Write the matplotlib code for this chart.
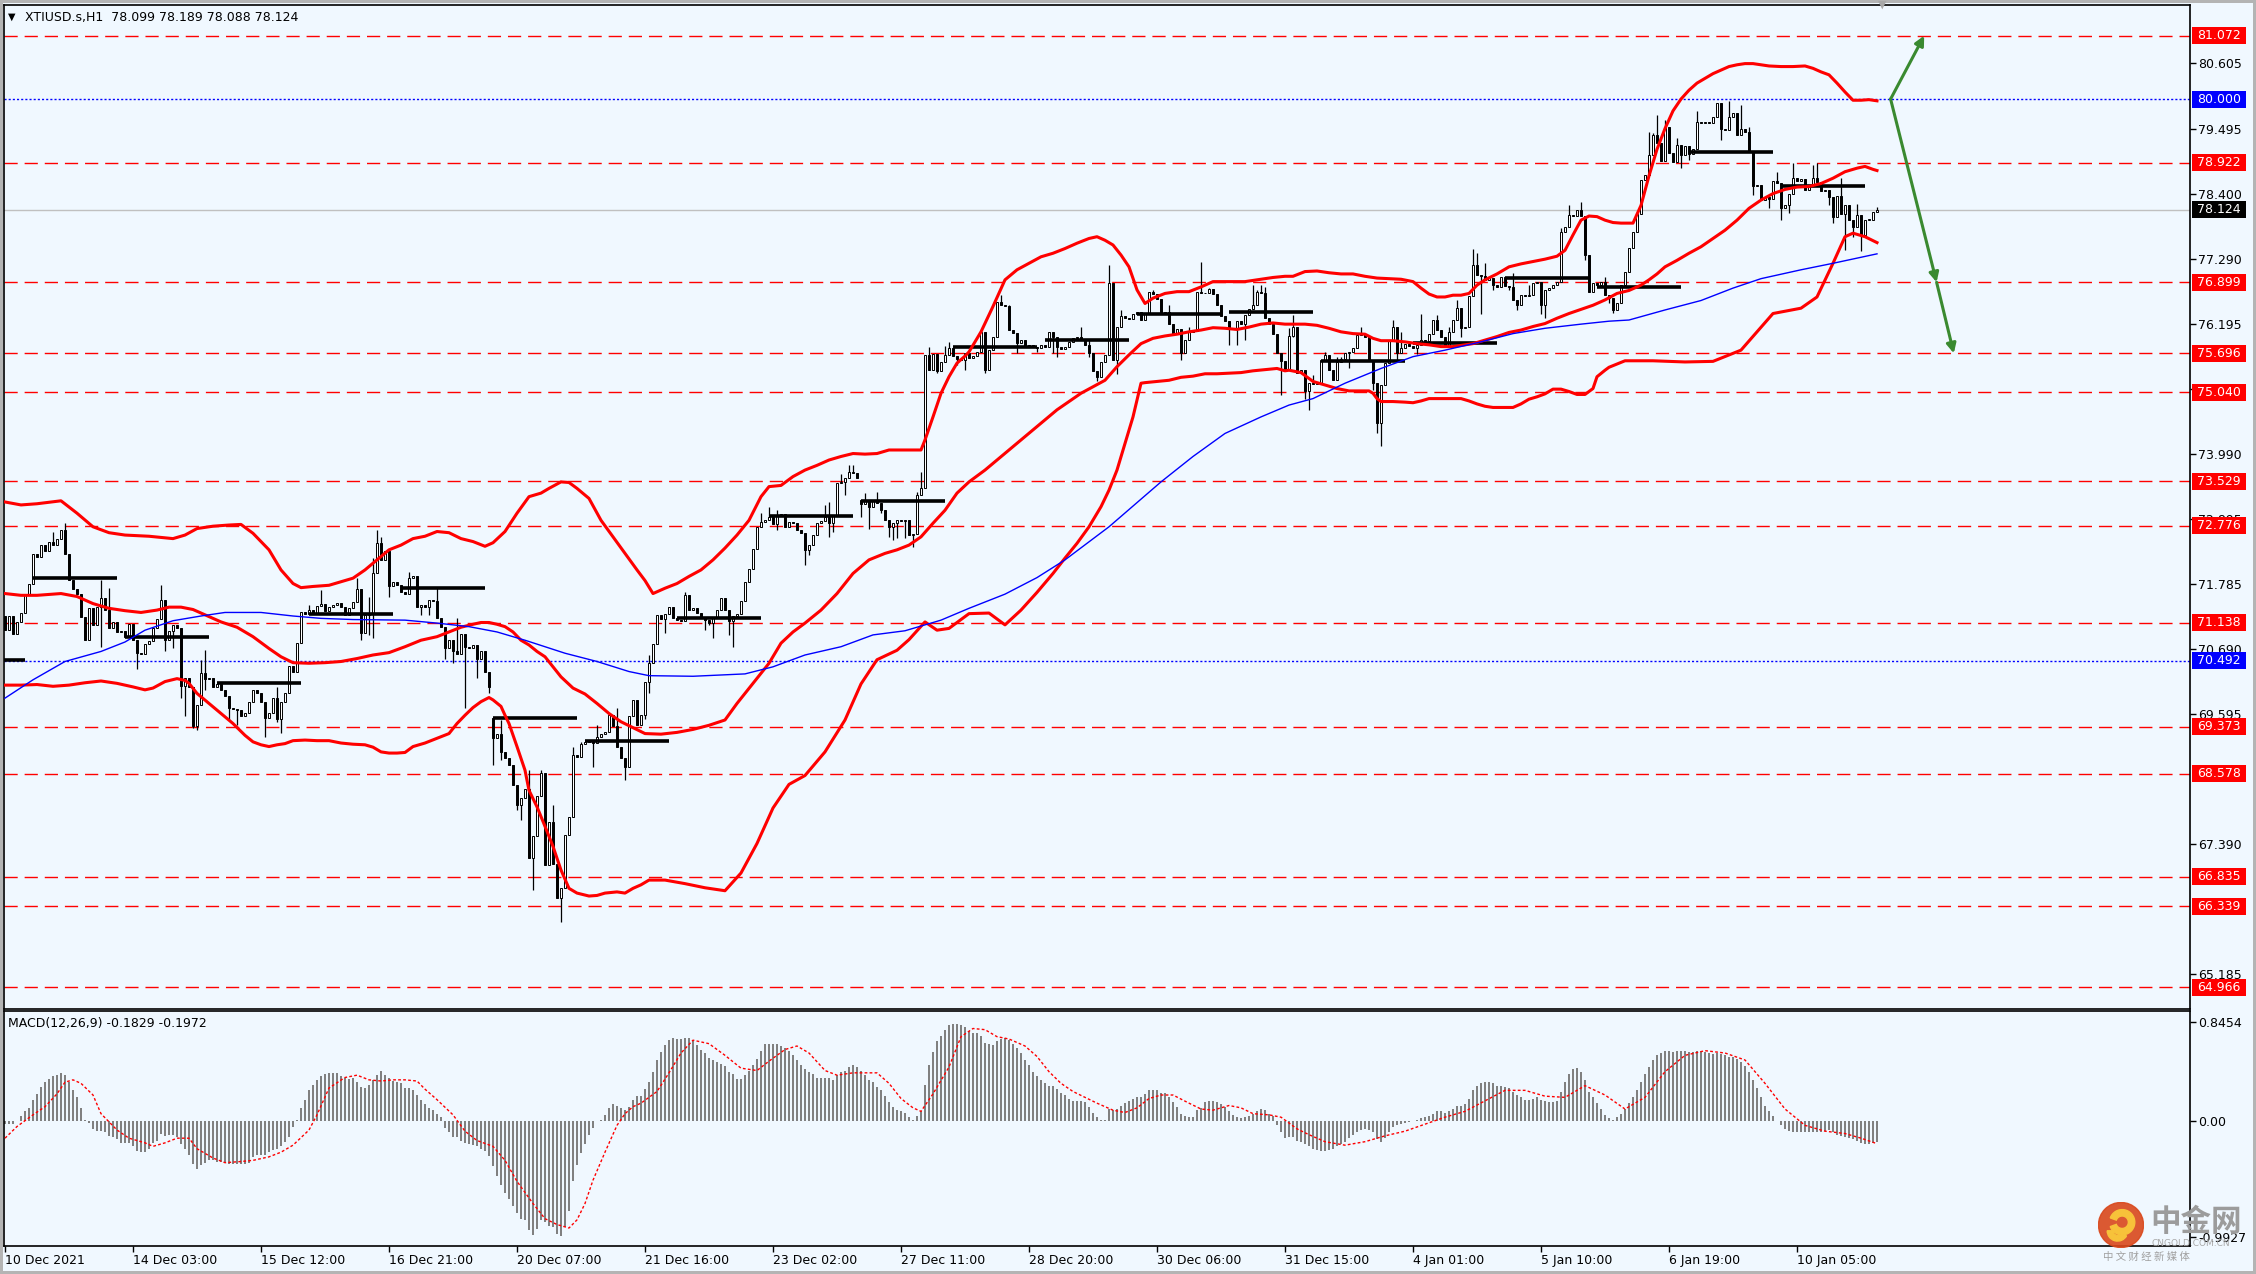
import matplotlib
matplotlib.use("Agg")
import matplotlib.pyplot as plt
import numpy as np
from matplotlib.patches import Rectangle, Circle, Wedge
from matplotlib.transforms import blended_transform_factory

# ---------------- data (XTIUSD H1) ----------------
closes = [
    71.02, 71.25, 70.95, 71.15, 71.30, 71.60, 71.80, 72.30, 72.25, 72.45,
    72.35, 72.50, 72.45, 72.55, 72.70, 72.30, 71.86, 71.70, 71.63, 71.24,
    70.85, 71.38, 71.10, 71.40, 71.55, 71.35, 71.04, 71.15, 70.98, 71.00,
    70.90, 71.12, 70.85, 70.62, 70.60, 70.78, 70.82, 71.05, 71.20, 71.52,
    70.85, 71.00, 71.10, 71.05, 70.06, 70.20, 70.05, 69.38, 69.74, 70.28,
    70.18, 70.20, 70.05, 70.10, 70.00, 69.90, 69.70, 69.68, 69.66, 69.56,
    69.60, 69.80, 70.00, 69.95, 69.80, 69.52, 69.60, 69.87, 69.50, 69.80,
    69.95, 70.40, 70.30, 70.80, 71.32, 71.28, 71.35, 71.30, 71.42, 71.45,
    71.33, 71.40, 71.44, 71.47, 71.40, 71.26, 71.38, 71.48, 71.70, 70.96,
    71.27, 71.30, 71.97, 72.48, 72.20, 72.35, 71.75, 71.82, 71.78, 71.65,
    71.62, 71.90, 71.93, 71.40, 71.43, 71.41, 71.52, 71.50, 71.21, 71.07,
    70.70, 70.85, 70.66, 70.60, 70.95, 70.72, 70.70, 70.76, 70.53, 70.66,
    70.31, 70.05, 69.18, 69.26, 68.95, 68.85, 68.72, 68.39, 68.05, 68.17,
    68.33, 67.15, 67.52, 68.20, 68.60, 67.04, 67.77, 67.05, 66.47, 66.65,
    67.55, 67.85, 68.90, 68.87, 69.08, 69.12, 69.15, 69.10, 69.20, 69.25,
    69.28, 69.57, 69.38, 69.04, 68.84, 68.70, 69.55, 69.83, 69.40, 69.57,
    70.14, 70.45, 70.78, 71.27, 71.20, 71.28, 71.40, 71.21, 71.18, 71.16,
    71.60, 71.35, 71.38, 71.30, 71.21, 71.18, 71.14, 71.24, 71.35, 71.55,
    71.35, 71.17, 71.25, 71.28, 71.50, 71.83, 72.05, 72.39, 72.76, 72.84,
    72.87, 72.93, 72.80, 72.96, 72.98, 72.75, 72.84, 72.82, 72.71, 72.65,
    72.37, 72.45, 72.62, 72.82, 72.86, 72.93, 72.82, 72.96, 73.50, 73.52,
    73.58, 73.69, 73.67, 73.58, 73.15, 73.20, 73.10, 73.21, 73.17, 73.04,
    72.87, 72.76, 72.82, 72.87, 72.85, 72.88, 72.62, 72.64, 73.30, 73.41,
    75.67, 75.42, 75.68, 75.40, 75.55, 75.67, 75.78, 75.65, 75.60, 75.58,
    75.70, 75.62, 75.65, 75.72, 76.05, 75.41, 75.75, 75.98, 76.57, 76.52,
    76.49, 76.09, 76.04, 75.87, 75.92, 75.80, 75.84, 75.80, 75.78, 75.84,
    75.80, 76.05, 75.97, 75.80, 75.77, 75.80, 75.89, 75.95, 75.97, 75.93,
    75.84, 75.70, 75.39, 75.30, 75.55, 75.67, 76.88, 75.58, 76.15, 76.32,
    76.30, 76.28, 76.37, 76.40, 76.26, 76.37, 76.73, 76.70, 76.62, 76.37,
    76.40, 76.20, 76.03, 76.10, 75.70, 75.92, 76.06, 76.08, 76.74, 76.71,
    76.72, 76.78, 76.70, 76.51, 76.32, 76.24, 76.12, 76.10, 76.25, 76.20,
    76.35, 76.45, 76.52, 76.74, 76.72, 76.29, 76.20, 76.03, 75.70, 75.56,
    75.41, 75.99, 76.14, 75.36, 75.42, 75.05, 75.19, 75.17, 75.19, 75.58,
    75.67, 75.41, 75.24, 75.55, 75.60, 75.70, 75.72, 75.78, 76.00, 76.03,
    75.97, 75.58, 75.19, 74.51, 75.16, 75.53, 75.92, 76.15, 75.70, 75.78,
    75.86, 75.82, 75.78, 75.84, 75.92, 75.90, 76.03, 76.26, 76.09, 75.98,
    75.80, 76.05, 76.26, 76.46, 76.12, 76.15, 76.66, 77.19, 77.02, 77.00,
    76.93, 76.97, 76.85, 76.82, 76.99, 76.83, 76.82, 76.60, 76.51, 76.68,
    76.66, 76.68, 76.88, 76.90, 76.52, 76.76, 76.80, 76.85, 76.91, 77.75,
    77.84, 78.03, 78.02, 78.12, 78.02, 77.36, 76.74, 76.89, 76.86, 76.90,
    76.68, 76.63, 76.43, 76.55, 76.85, 77.08, 77.48, 77.75, 78.05, 78.63,
    78.71, 79.05, 79.39, 79.25, 78.95, 79.53, 79.08, 78.93, 79.22, 79.06,
    79.20, 79.07, 79.16, 79.62, 79.60, 79.62, 79.60, 79.70, 79.93, 79.50,
    79.48, 79.70, 79.76, 79.39, 79.50, 79.45, 79.11, 78.52, 78.55, 78.29,
    78.35, 78.30, 78.62, 78.58, 78.15, 78.20, 78.40, 78.66, 78.62, 78.65,
    78.46, 78.52, 78.66, 78.60, 78.45, 78.46, 78.35, 78.01, 78.36, 78.05,
    78.20, 77.95, 77.84, 78.04, 77.70, 77.95, 77.96, 78.09, 78.124,
]
# opens that differ from the previous close (session gaps)
gap_opens = {0: 71.25, 122: 69.52, 214: 73.21}
# visible wick ends
wick_highs = {
    12: 72.68, 15: 72.82, 24: 71.86, 26: 71.72, 39: 71.77, 49: 70.50, 50: 70.67,
    68: 70.05, 76: 71.43, 79: 71.69, 88: 71.89, 91: 71.58, 92: 72.23, 93: 72.71,
    94: 72.59, 101: 72.00, 108: 71.72, 113: 71.21, 124: 69.49, 131: 68.64,
    134: 68.64, 135: 68.56, 137: 68.05, 140: 67.46, 142: 69.04, 144: 69.12,
    148: 69.40, 153: 69.69, 158: 69.83, 161: 70.59, 166: 71.41, 170: 71.66,
    179: 71.55, 189: 72.99, 191: 73.10, 193: 73.04, 205: 73.13, 206: 73.18,
    209: 73.66, 211: 73.80, 212: 73.80, 215: 73.33, 218: 73.35, 228: 73.35,
    229: 73.69, 231: 75.81, 235: 75.82, 236: 75.89, 249: 76.68, 251: 76.51,
    269: 76.15, 271: 75.92, 276: 77.19, 279: 76.43, 283: 76.40, 286: 76.74,
    287: 76.77, 291: 76.51, 296: 76.15, 299: 77.24, 301: 76.80, 302: 76.77,
    312: 76.85, 313: 76.77, 314: 76.85, 315: 76.82, 321: 76.12, 322: 76.34,
    327: 75.33, 330: 75.72, 333: 75.64, 334: 75.64, 336: 75.72, 337: 75.78,
    339: 76.15, 347: 76.26, 349: 76.06, 354: 76.37, 358: 76.34, 361: 76.15,
    363: 76.60, 367: 77.47, 368: 77.39, 370: 77.22, 377: 77.05, 381: 76.85,
    384: 76.91, 389: 77.81, 391: 78.21, 394: 78.26, 400: 76.99, 406: 77.16,
    411: 79.45, 412: 79.42, 413: 79.73, 415: 79.65, 418: 79.34, 423: 79.79,
    428: 79.93, 431: 79.96, 434: 79.90, 436: 79.53, 443: 78.77, 447: 78.91,
    452: 78.88, 453: 78.91, 459: 78.66, 463: 78.23, 468: 78.18,
}
wick_lows = {
    24: 70.73, 33: 70.36, 40: 70.65, 42: 70.70, 44: 69.86, 45: 69.55, 47: 69.36,
    48: 69.32, 50: 70.00, 56: 69.49, 58: 69.40, 65: 69.21, 68: 69.45, 69: 69.27,
    89: 70.84, 91: 70.93, 92: 70.87, 96: 71.58, 104: 71.27, 106: 71.27,
    110: 70.53, 112: 70.45, 115: 69.69, 118: 70.20, 121: 69.94, 122: 68.73,
    124: 68.81, 128: 67.97, 129: 67.80, 132: 66.61, 139: 66.07, 147: 68.70,
    155: 68.47, 160: 69.50, 161: 69.94, 165: 70.96, 175: 71.01, 176: 71.10,
    177: 70.87, 181: 70.93, 182: 70.73, 193: 72.71, 200: 72.11, 201: 72.28,
    206: 72.59, 207: 72.68, 210: 73.30, 214: 72.93, 216: 72.73, 219: 72.99,
    221: 72.59, 222: 72.54, 223: 72.57, 225: 72.57, 227: 72.42, 233: 75.36,
    238: 75.50, 240: 75.41, 245: 75.36, 253: 75.70, 258: 75.72, 262: 75.70,
    263: 75.64, 271: 75.64, 273: 75.22, 278: 75.35, 294: 75.58, 306: 75.84,
    308: 75.84, 310: 75.92, 319: 74.99, 322: 75.98, 325: 74.93, 326: 74.74,
    336: 75.44, 342: 75.07, 343: 74.34, 344: 74.12, 348: 75.58, 353: 75.69,
    364: 75.98, 369: 76.37, 372: 76.77, 376: 76.77, 378: 76.43, 384: 76.37,
    385: 76.29, 395: 77.28, 397: 76.77, 401: 76.54, 402: 76.38, 419: 78.83,
    421: 78.97, 429: 79.31, 437: 78.38, 440: 78.32, 441: 78.15, 444: 77.95,
    446: 78.07, 456: 78.21, 457: 77.90, 460: 77.44, 462: 77.67, 464: 77.42,
}

# Bollinger bands and moving average, (bar, price) points
bb_upper = [
    (0, 73.18), (4, 73.13), (8, 73.15), (14, 73.20), (18, 72.99), (22, 72.76), (26, 72.66),
    (30, 72.62), (36, 72.60), (42, 72.56), (45, 72.62), (48, 72.73), (52, 72.77), (56, 72.79),
    (59, 72.80), (62, 72.65), (66, 72.37), (69, 72.03), (72, 71.80), (74, 71.73), (77, 71.75),
    (81, 71.77), (84, 71.83), (87, 71.89), (90, 72.03), (93, 72.20), (96, 72.37), (99, 72.45),
    (102, 72.56), (105, 72.60), (108, 72.68), (111, 72.66), (114, 72.56), (117, 72.51),
    (120, 72.43), (122, 72.49), (125, 72.68), (128, 72.99), (131, 73.27), (134, 73.33),
    (136, 73.41), (139, 73.52), (141, 73.51), (143, 73.41), (146, 73.24), (149, 72.87),
    (152, 72.59), (155, 72.31), (158, 72.03), (160, 71.85), (162, 71.63), (165, 71.72),
    (168, 71.80), (171, 71.92), (174, 72.03), (177, 72.20), (180, 72.40), (183, 72.62),
    (186, 72.87), (189, 73.27), (191, 73.44), (194, 73.46), (197, 73.61), (200, 73.72),
    (203, 73.80), (206, 73.89), (209, 73.95), (212, 74.00), (215, 73.99), (218, 74.00),
    (221, 74.06), (229, 74.06), (230, 74.23), (232, 74.62), (234, 75.02), (236, 75.30),
    (238, 75.53), (240, 75.65), (241, 75.72), (244, 76.06), (247, 76.49), (250, 76.94),
    (253, 77.11), (256, 77.22), (259, 77.33), (262, 77.39), (265, 77.47), (268, 77.56),
    (271, 77.64), (273, 77.67), (275, 77.61), (277, 77.53), (279, 77.36), (281, 77.16),
    (283, 76.77), (285, 76.54), (287, 76.63), (290, 76.71), (293, 76.74), (296, 76.74),
    (299, 76.82), (302, 76.91), (305, 76.91), (310, 76.91), (314, 76.95), (317, 76.98),
    (320, 77.00), (322, 77.00), (325, 77.08), (328, 77.09), (331, 77.06), (334, 77.04),
    (337, 77.04), (340, 77.00), (343, 76.97), (346, 76.96), (349, 76.95), (352, 76.91),
    (354, 76.80), (356, 76.70), (358, 76.65), (360, 76.65), (362, 76.68), (364, 76.68),
    (366, 76.71), (368, 76.85), (370, 76.94), (373, 77.04), (376, 77.16), (379, 77.21),
    (382, 77.25), (385, 77.29), (388, 77.34), (390, 77.44), (392, 77.70), (394, 77.95),
    (396, 78.02), (398, 78.01), (400, 77.95), (402, 77.91), (404, 77.90), (407, 77.90),
    (409, 78.20), (411, 78.70), (413, 79.15), (415, 79.50), (417, 79.80), (419, 80.00),
    (421, 80.15), (423, 80.27), (425, 80.35), (427, 80.43), (429, 80.49), (431, 80.55),
    (433, 80.58), (435, 80.60), (437, 80.60), (439, 80.58), (441, 80.56), (444, 80.55),
    (447, 80.55), (450, 80.56), (452, 80.52), (454, 80.46), (456, 80.41), (458, 80.27),
    (460, 80.12), (462, 79.98), (464, 79.98), (466, 79.99), (468, 79.97),
]
bb_middle = [
    (0, 71.63), (4, 71.60), (8, 71.60), (14, 71.63), (18, 71.58), (22, 71.46), (26, 71.38),
    (30, 71.34), (34, 71.31), (38, 71.35), (41, 71.40), (44, 71.40), (47, 71.36), (50, 71.27),
    (54, 71.15), (58, 71.06), (62, 70.90), (66, 70.70), (69, 70.56), (72, 70.46), (76, 70.45),
    (80, 70.46), (84, 70.48), (88, 70.53), (92, 70.59), (96, 70.63), (100, 70.73), (104, 70.84),
    (108, 70.90), (111, 70.98), (114, 71.06), (117, 71.11), (119, 71.14), (121, 71.14),
    (123, 71.11), (125, 71.07), (127, 70.98), (129, 70.84), (131, 70.76), (133, 70.65),
    (135, 70.56), (137, 70.39), (139, 70.22), (142, 70.03), (145, 69.93), (148, 69.77),
    (151, 69.60), (154, 69.46), (157, 69.36), (160, 69.26), (164, 69.25), (168, 69.28),
    (172, 69.33), (176, 69.40), (180, 69.49), (183, 69.77), (187, 70.11), (191, 70.45),
    (194, 70.79), (197, 70.98), (200, 71.13), (204, 71.35), (208, 71.63), (212, 71.97),
    (216, 72.20), (220, 72.31), (223, 72.37), (226, 72.45), (229, 72.59), (232, 72.82),
    (235, 73.04), (238, 73.33), (241, 73.52), (245, 73.72), (248, 73.89), (251, 74.06),
    (254, 74.23), (257, 74.40), (260, 74.57), (263, 74.74), (266, 74.88), (269, 75.02),
    (272, 75.13), (275, 75.24), (278, 75.47), (281, 75.67), (284, 75.86), (287, 75.95),
    (290, 75.99), (293, 76.02), (296, 76.06), (299, 76.09), (302, 76.13), (305, 76.12),
    (308, 76.10), (311, 76.14), (314, 76.19), (317, 76.21), (320, 76.19), (325, 76.19),
    (328, 76.17), (331, 76.12), (334, 76.06), (337, 76.03), (340, 76.02), (342, 75.95),
    (344, 75.91), (347, 75.91), (350, 75.89), (353, 75.86), (356, 75.84), (359, 75.81),
    (362, 75.81), (365, 75.84), (367, 75.86), (370, 75.92), (373, 75.98), (376, 76.05),
    (379, 76.09), (382, 76.15), (385, 76.20), (388, 76.29), (391, 76.37), (394, 76.44),
    (397, 76.51), (400, 76.60), (403, 76.71), (406, 76.76), (409, 76.85), (411, 76.94),
    (413, 77.04), (415, 77.16), (418, 77.27), (421, 77.39), (424, 77.50), (427, 77.64),
    (430, 77.78), (433, 77.95), (436, 78.15), (439, 78.29), (442, 78.40), (445, 78.47),
    (448, 78.51), (451, 78.52), (454, 78.57), (457, 78.66), (460, 78.77), (463, 78.83),
    (465, 78.86), (467, 78.81), (468, 78.79),
]
bb_lower = [
    (0, 70.08), (4, 70.08), (8, 70.09), (12, 70.06), (16, 70.08), (20, 70.12), (24, 70.15),
    (28, 70.11), (32, 70.05), (35, 70.00), (37, 70.03), (40, 70.14), (43, 70.19), (45, 70.16),
    (46, 70.11), (48, 69.94), (51, 69.77), (54, 69.60), (57, 69.43), (60, 69.23), (62, 69.12),
    (64, 69.07), (66, 69.04), (68, 69.07), (70, 69.09), (72, 69.14), (75, 69.15), (78, 69.14),
    (81, 69.14), (84, 69.10), (87, 69.08), (90, 69.07), (92, 69.03), (94, 68.95), (96, 68.93),
    (98, 68.93), (100, 68.94), (102, 69.04), (105, 69.10), (108, 69.18), (111, 69.26),
    (113, 69.43), (115, 69.57), (117, 69.70), (119, 69.80), (121, 69.87), (122, 69.83),
    (124, 69.72), (125, 69.57), (126, 69.43), (128, 69.04), (130, 68.64), (131, 68.30),
    (133, 68.02), (135, 67.69), (137, 67.35), (139, 66.95), (141, 66.64), (143, 66.56),
    (146, 66.51), (148, 66.52), (150, 66.56), (153, 66.58), (155, 66.56), (157, 66.64),
    (159, 66.70), (161, 66.78), (165, 66.78), (170, 66.72), (175, 66.65), (180, 66.60),
    (184, 66.90), (188, 67.40), (192, 68.00), (196, 68.40), (200, 68.55), (205, 68.95),
    (210, 69.49), (214, 70.10), (218, 70.51), (223, 70.67), (226, 70.85), (230, 71.15),
    (233, 71.01), (236, 71.04), (241, 71.29), (246, 71.30), (250, 71.10), (254, 71.35),
    (258, 71.65), (262, 71.97), (265, 72.23), (268, 72.48), (271, 72.76), (274, 73.10),
    (276, 73.38), (278, 73.72), (280, 74.17), (282, 74.62), (284, 75.19), (285, 75.20),
    (288, 75.22), (291, 75.24), (294, 75.29), (297, 75.31), (300, 75.35), (303, 75.35),
    (306, 75.36), (309, 75.37), (312, 75.40), (315, 75.42), (318, 75.44), (320, 75.40),
    (321, 75.41), (324, 75.37), (327, 75.22), (330, 75.16), (333, 75.10), (336, 75.06),
    (341, 75.06), (342, 75.02), (343, 74.93), (344, 74.88), (347, 74.88), (350, 74.87),
    (352, 74.86), (354, 74.89), (356, 74.93), (364, 74.93), (366, 74.89), (368, 74.84),
    (370, 74.80), (372, 74.78), (377, 74.78), (379, 74.84), (381, 74.92), (383, 74.96),
    (385, 75.01), (387, 75.09), (389, 75.09), (391, 75.05), (393, 75.00), (395, 75.00),
    (397, 75.10), (398, 75.30), (400, 75.41), (401, 75.46), (405, 75.57), (412, 75.57),
    (420, 75.55), (427, 75.56), (434, 75.75), (442, 76.37), (449, 76.46), (453, 76.65),
    (457, 77.22), (460, 77.67), (462, 77.73), (465, 77.67), (468, 77.57),
]
ma_blue = [
    (0, 69.86), (7, 70.17), (15, 70.48), (24, 70.65), (30, 70.81), (35, 71.01), (42, 71.17),
    (49, 71.25), (55, 71.31), (64, 71.31), (72, 71.25), (79, 71.21), (87, 71.19), (100, 71.18),
    (108, 71.13), (116, 71.07), (123, 70.98), (130, 70.84), (140, 70.62), (148, 70.48),
    (156, 70.31), (161, 70.24), (172, 70.23), (185, 70.27), (192, 70.39), (200, 70.59),
    (209, 70.73), (217, 70.93), (225, 71.00), (234, 71.18), (241, 71.38), (250, 71.62),
    (258, 71.90), (265, 72.20), (276, 72.76), (289, 73.52), (297, 73.95), (305, 74.34),
    (314, 74.62), (321, 74.82), (327, 74.93), (335, 75.19), (344, 75.44), (352, 75.64),
    (360, 75.75), (369, 75.89), (377, 76.03), (385, 76.12), (394, 76.19), (401, 76.24),
    (406, 76.26), (415, 76.43), (424, 76.59), (432, 76.80), (439, 76.96), (449, 77.11),
    (457, 77.22), (468, 77.38),
]
# daily reference segments: (first bar, price), each 21 bars long
day_lines = [
    (-16, 70.505), (7, 71.898), (30, 70.899), (53, 70.116), (76, 71.283), (99, 71.729),
    (122, 69.523), (145, 69.139), (168, 71.216), (191, 72.947), (214, 73.196),
    (237, 75.808), (260, 75.930), (283, 76.370), (306, 76.390), (329, 75.571),
    (352, 75.865), (375, 76.976), (398, 76.824), (421, 79.108), (444, 78.533),
]

red_levels = [81.072, 78.922, 76.899, 75.696, 75.040, 73.529, 72.776, 71.138,
              69.373, 68.578, 66.835, 66.339, 64.966]
blue_levels = [80.000, 70.492]
last_price = 78.124
price_ticks = [80.605, 79.495, 78.400, 77.290, 76.195, 75.100, 73.990, 72.895,
               71.785, 70.690, 69.595, 67.390, 65.185]
# forecast arrows: (bar, price) start -> end
arrows = [((471.4, 80.000), (479.8, 81.072)),
          ((471.4, 80.000), (482.9, 76.899)),
          ((482.9, 76.899), (487.2, 75.696))]

# MACD(12,26,9) main values (histogram), one per bar
macd = [
    -0.03, -0.03, -0.03, 0.00, 0.04, 0.08, 0.11, 0.18, 0.23, 0.29,
    0.33, 0.36, 0.38, 0.39, 0.41, 0.39, 0.33, 0.26, 0.20, 0.11,
    0.01, -0.02, -0.07, -0.09, -0.09, -0.10, -0.13, -0.14, -0.16, -0.19,
    -0.19, -0.19, -0.22, -0.26, -0.27, -0.27, -0.24, -0.19, -0.17, -0.11,
    -0.13, -0.12, -0.12, -0.14, -0.20, -0.24, -0.29, -0.37, -0.41, -0.38,
    -0.36, -0.34, -0.34, -0.35, -0.35, -0.36, -0.37, -0.37, -0.37, -0.37,
    -0.37, -0.36, -0.31, -0.29, -0.29, -0.29, -0.27, -0.25, -0.24, -0.22,
    -0.18, -0.14, -0.05, 0.01, 0.11, 0.18, 0.26, 0.31, 0.35, 0.38,
    0.40, 0.41, 0.41, 0.41, 0.38, 0.37, 0.36, 0.37, 0.33, 0.29,
    0.28, 0.31, 0.35, 0.39, 0.43, 0.39, 0.37, 0.34, 0.33, 0.32,
    0.28, 0.28, 0.26, 0.22, 0.18, 0.14, 0.11, 0.09, 0.06, 0.03,
    -0.06, -0.10, -0.14, -0.14, -0.17, -0.19, -0.20, -0.21, -0.22, -0.24,
    -0.26, -0.30, -0.39, -0.47, -0.55, -0.62, -0.67, -0.73, -0.79, -0.84,
    -0.85, -0.94, -0.98, -0.93, -0.85, -0.87, -0.90, -0.91, -0.97, -0.99,
    -0.91, -0.77, -0.52, -0.38, -0.28, -0.20, -0.12, -0.06, 0.00, 0.01,
    0.05, 0.11, 0.14, 0.13, 0.11, 0.09, 0.12, 0.18, 0.21, 0.21,
    0.27, 0.33, 0.42, 0.52, 0.59, 0.65, 0.69, 0.71, 0.70, 0.70,
    0.71, 0.71, 0.69, 0.65, 0.61, 0.58, 0.54, 0.52, 0.50, 0.49,
    0.47, 0.42, 0.40, 0.36, 0.36, 0.39, 0.43, 0.48, 0.53, 0.60,
    0.66, 0.66, 0.66, 0.66, 0.64, 0.62, 0.60, 0.56, 0.52, 0.48,
    0.44, 0.42, 0.40, 0.37, 0.37, 0.37, 0.37, 0.35, 0.39, 0.42,
    0.43, 0.46, 0.48, 0.46, 0.43, 0.39, 0.35, 0.33, 0.29, 0.26,
    0.21, 0.16, 0.12, 0.09, 0.08, 0.07, 0.03, 0.006, 0.04, 0.08,
    0.31, 0.48, 0.59, 0.68, 0.73, 0.78, 0.82, 0.83, 0.83, 0.82,
    0.80, 0.77, 0.75, 0.75, 0.73, 0.67, 0.66, 0.65, 0.68, 0.70,
    0.71, 0.69, 0.66, 0.62, 0.58, 0.52, 0.48, 0.42, 0.38, 0.35,
    0.32, 0.30, 0.30, 0.27, 0.24, 0.22, 0.19, 0.17, 0.17, 0.17,
    0.16, 0.12, 0.07, 0.03, 0.006, 0.006, 0.10, 0.09, 0.10, 0.13,
    0.15, 0.17, 0.19, 0.20, 0.20, 0.23, 0.26, 0.26, 0.26, 0.24,
    0.24, 0.20, 0.16, 0.12, 0.06, 0.04, 0.03, 0.03, 0.09, 0.11,
    0.16, 0.17, 0.17, 0.16, 0.14, 0.12, 0.08, 0.05, 0.03, 0.02,
    0.03, 0.04, 0.06, 0.08, 0.10, 0.09, 0.06, 0.04, -0.04, -0.10,
    -0.15, -0.14, -0.14, -0.17, -0.18, -0.20, -0.22, -0.24, -0.25, -0.26,
    -0.26, -0.25, -0.24, -0.22, -0.20, -0.18, -0.15, -0.12, -0.10, -0.08,
    -0.07, -0.08, -0.10, -0.16, -0.18, -0.15, -0.10, -0.05, -0.04, -0.03,
    -0.02, -0.01, 0.00, 0.01, 0.02, 0.03, 0.04, 0.06, 0.08, 0.08,
    0.07, 0.08, 0.10, 0.13, 0.13, 0.14, 0.19, 0.26, 0.30, 0.32,
    0.33, 0.33, 0.32, 0.30, 0.30, 0.29, 0.28, 0.25, 0.22, 0.20,
    0.18, 0.18, 0.19, 0.20, 0.18, 0.17, 0.16, 0.16, 0.17, 0.25,
    0.33, 0.40, 0.44, 0.45, 0.42, 0.35, 0.25, 0.20, 0.15, 0.10,
    0.05, 0.02, 0.01, 0.03, 0.06, 0.10, 0.15, 0.20, 0.26, 0.33,
    0.40, 0.46, 0.52, 0.56, 0.58, 0.60, 0.60, 0.59, 0.60, 0.60,
    0.60, 0.59, 0.59, 0.60, 0.60, 0.59, 0.58, 0.57, 0.58, 0.57,
    0.56, 0.55, 0.55, 0.53, 0.50, 0.47, 0.42, 0.35, 0.28, 0.20,
    0.13, 0.08, 0.04, 0.00, -0.04, -0.07, -0.09, -0.10, -0.10, -0.10,
    -0.10, -0.10, -0.10, -0.10, -0.10, -0.09, -0.08, -0.10, -0.12, -0.13,
    -0.14, -0.15, -0.16, -0.17, -0.19, -0.20, -0.20, -0.19, -0.18,
]
macd_signal = [
    (0, -0.15), (3, -0.05), (7, 0.05), (10, 0.12), (13, 0.23), (15, 0.33), (17, 0.35),
    (19, 0.32), (22, 0.22), (24, 0.06), (28, -0.08), (31, -0.15), (35, -0.19), (37, -0.22),
    (40, -0.19), (43, -0.15), (46, -0.15), (48, -0.24), (52, -0.32), (55, -0.36), (59, -0.35),
    (62, -0.34), (66, -0.31), (69, -0.27), (72, -0.21), (76, -0.08), (78, 0.05), (81, 0.28),
    (85, 0.37), (88, 0.39), (91, 0.35), (94, 0.34), (97, 0.35), (100, 0.35), (103, 0.34),
    (105, 0.27), (108, 0.18), (112, 0.05), (115, -0.09), (118, -0.17), (122, -0.22),
    (125, -0.34), (128, -0.52), (132, -0.71), (135, -0.84), (138, -0.89), (141, -0.92),
    (143, -0.85), (145, -0.71), (147, -0.51), (150, -0.27), (153, -0.04), (155, 0.06),
    (157, 0.12), (159, 0.15), (163, 0.25), (166, 0.41), (169, 0.58), (172, 0.69), (176, 0.66),
    (180, 0.56), (184, 0.45), (188, 0.43), (191, 0.51), (195, 0.61), (198, 0.64), (201, 0.58),
    (205, 0.43), (208, 0.39), (212, 0.41), (218, 0.41), (221, 0.32), (224, 0.19), (227, 0.11),
    (229, 0.08), (232, 0.23), (236, 0.46), (239, 0.72), (242, 0.79), (245, 0.78), (248, 0.72),
    (251, 0.70), (255, 0.64), (258, 0.55), (261, 0.42), (264, 0.32), (267, 0.25), (270, 0.20),
    (273, 0.15), (277, 0.09), (280, 0.07), (283, 0.11), (286, 0.19), (289, 0.22), (292, 0.22),
    (296, 0.15), (299, 0.10), (302, 0.09), (306, 0.13), (309, 0.11), (312, 0.06), (316, 0.05),
    (319, 0.03), (321, -0.02), (323, -0.07), (326, -0.12), (330, -0.18), (335, -0.21),
    (340, -0.18), (345, -0.13), (350, -0.09), (355, -0.03), (360, 0.03), (365, 0.08),
    (370, 0.17), (375, 0.26), (380, 0.26), (385, 0.21), (390, 0.20), (395, 0.30), (400, 0.22),
    (405, 0.10), (410, 0.20), (415, 0.42), (420, 0.56), (425, 0.60), (430, 0.58), (435, 0.52),
    (440, 0.32), (445, 0.10), (450, -0.04), (455, -0.09), (460, -0.11), (464, -0.15),
    (468, -0.197),
]
macd_ticks = [0.8454, 0.0, -0.9927]
macd_tick_labels = ["0.8454", "0.00", "-0.9927"]

time_labels = ["10 Dec 2021", "14 Dec 03:00", "15 Dec 12:00", "16 Dec 21:00",
               "20 Dec 07:00", "21 Dec 16:00", "23 Dec 02:00", "27 Dec 11:00",
               "28 Dec 20:00", "30 Dec 06:00", "31 Dec 15:00", "4 Jan 01:00",
               "5 Jan 10:00", "6 Jan 19:00", "10 Jan 05:00"]
label_step = 32

# ---------------- figure ----------------
W, H = 2256, 1274
BG = "#f0f8ff"
plt.rcParams['font.family'] = ['DejaVu Sans']

fig = plt.figure(figsize=(W / 100, H / 100), dpi=100)
fig.patch.set_facecolor(BG)
fig.patch.set_edgecolor("#b4b4b4")
fig.patch.set_linewidth(3)

ax = fig.add_axes([4 / W, 1 - 1009 / H, 2186 / W, 1004 / H])
mx = fig.add_axes([4 / W, 1 - 1246 / H, 2186 / W, 235 / H])
for a in (ax, mx):
    a.set_facecolor(BG)
    a.set_xlim(-0.25, 546.25)
    for s in a.spines.values():
        s.set_color("black")
        s.set_linewidth(1.2)
ax.set_ylim(64.598, 81.592)
mx.set_ylim(-1.074, 0.940)

n = len(closes)
idx = np.arange(n)
c = np.array(closes)
o = np.array([gap_opens.get(i, closes[i - 1] if i else closes[0]) for i in range(n)])
hi = np.array([max(o[i], c[i], wick_highs.get(i, 0.0)) for i in range(n)])
lo = np.array([min(o[i], c[i], wick_lows.get(i, 999.0)) for i in range(n)])

# horizontal levels
for lv in red_levels:
    ax.axhline(lv, color="red", lw=1.0, dashes=(9.5, 5), zorder=1)
for lv in blue_levels:
    ax.axhline(lv, color="#0000ff", lw=1.0, dashes=(1.5, 1.5), zorder=1)
ax.axhline(last_price, color="#c0c0c0", lw=1.0, zorder=1)

# candles
ax.vlines(idx, lo, hi, color="black", lw=0.9, zorder=3)
up = c >= o
ax.bar(idx[up], np.maximum(c[up] - o[up], 0.012), bottom=o[up], width=0.62,
       facecolor="white", edgecolor="black", lw=0.7, zorder=4)
ax.bar(idx[~up], np.maximum(o[~up] - c[~up], 0.012), bottom=c[~up], width=0.62,
       facecolor="black", edgecolor="black", lw=0.7, zorder=4)

# daily segments
for start, lv in day_lines:
    ax.plot([max(start, -0.25), start + 21], [lv, lv], color="black", lw=2.6,
            solid_capstyle="butt", zorder=5)

# indicators
for line in (bb_upper, bb_middle, bb_lower):
    xs, ys = zip(*line)
    ax.plot(xs, ys, color="#ff0000", lw=2.2, zorder=6)
xs, ys = zip(*ma_blue)
ax.plot(xs, ys, color="#0000ff", lw=1.0, zorder=6)

# forecast arrows
for (x0, y0), (x1, y1) in arrows:
    ax.annotate("", xy=(x1, y1), xytext=(x0, y0), annotation_clip=False,
                arrowprops=dict(arrowstyle="-|>", color="#3a8a30", lw=2.2,
                                mutation_scale=14, shrinkA=0, shrinkB=0), zorder=7)

# right price scale
ax.yaxis.tick_right()
ax.set_yticks(price_ticks)
ax.set_yticklabels([f"{v:.3f}" for v in price_ticks])
ax.tick_params(axis="y", length=4, width=1, pad=2, labelsize=9, colors="black")
ax.set_xticks([])

trans = blended_transform_factory(ax.transAxes, ax.transData)
bw = 54 / 2186
bh = 17 / 59.08
boxes = [(lv, "#ff0000") for lv in red_levels] + [(lv, "#0000ff") for lv in blue_levels] \
        + [(last_price, "black")]
for lv, col in boxes:
    ax.add_patch(Rectangle((1.0009, lv - bh / 2), bw, bh, transform=trans, clip_on=False,
                           facecolor=col, edgecolor="none", zorder=8))
    ax.text(1.0009 + bw / 2, lv, f"{lv:.3f}", transform=trans, ha="center", va="center",
            color="white", fontsize=9, zorder=9, clip_on=False)

# MACD panel
mx.bar(idx, macd, width=0.65, color="#808080", zorder=2)
xs, ys = zip(*macd_signal)
mx.plot(xs, ys, color="#ff0000", lw=1.0, ls=(0, (2, 1.6)), zorder=3)
mx.yaxis.tick_right()
mx.set_yticks(macd_ticks)
mx.set_yticklabels(macd_tick_labels)
mx.tick_params(axis="y", length=4, width=1, pad=2, labelsize=9)
mx.set_xticks([i * label_step for i in range(len(time_labels))])
mx.set_xticklabels(time_labels)
mx.tick_params(axis="x", length=4, width=1, pad=2, labelsize=9)
for lbl in mx.get_xticklabels():
    lbl.set_horizontalalignment("left")

# captions
fig.text(12 / W, 1 - 17 / H, "▼", fontsize=7, ha="center", va="center")
fig.text(25 / W, 1 - 17 / H, "XTIUSD.s,H1  78.099 78.189 78.088 78.124",
         fontsize=9, va="center")
fig.text(8 / W, 1 - 1024 / H, "MACD(12,26,9) -0.1829 -0.1972", fontsize=9, va="center")
fig.text(1882 / W, 1 - 5 / H, "▼", fontsize=8, color="#a8a8a8", ha="center", va="center")

# watermark logo
lg = fig.add_axes([2098 / W, 1 - 1248 / H, 46 / W, 46 / H])
lg.set_xlim(-1, 1)
lg.set_ylim(-1, 1)
lg.set_aspect("equal")
lg.axis("off")
lg.add_patch(Circle((0, 0), 0.98, color="#d9481c", alpha=0.9))
lg.add_patch(Wedge((0.05, 0.12), 0.55, 200, 520, width=0.28, color="#f7c23a"))
lg.add_patch(Wedge((-0.15, -0.25), 0.45, 180, 330, width=0.25, color="#f7c23a"))
cjk = ["Noto Sans CJK SC", "DejaVu Sans"]
fig.text(2150 / W, 1 - 1222 / H, "中金网", fontsize=22, color="#9c9c9c",
         family=cjk, weight="bold", va="center")
fig.text(2152 / W, 1 - 1243 / H, "CNGOLD.COM.CN", fontsize=6.5, color="#a8a8a8", va="center")
fig.text(2103 / W, 1 - 1257 / H, "中 文 财 经 新 媒 体", fontsize=7.5, color="#a0a0a0",
         family=cjk, va="center")

fig.savefig("out.png", dpi=100, facecolor=fig.get_facecolor(), edgecolor=fig.get_edgecolor())
